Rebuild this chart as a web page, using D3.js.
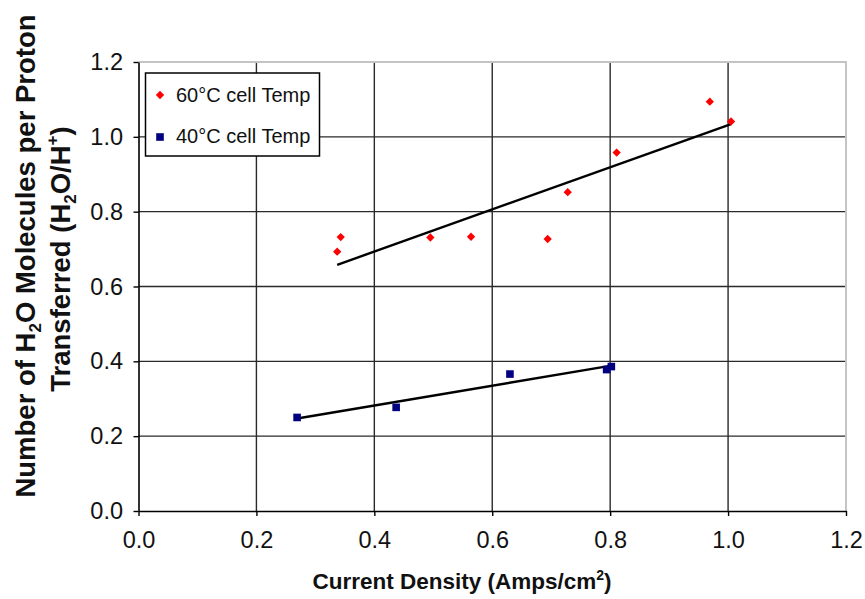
<!DOCTYPE html>
<html>
<head>
<meta charset="utf-8">
<script src="https://cdn.jsdelivr.net/npm/d3@7"></script>
<style>
  body { margin: 0; background: #fff; }
  text { font-family: "Liberation Sans", Arial, Helvetica, sans-serif; }
</style>
</head>
<body>
<svg id="chart" width="865" height="599"></svg>
<script>

var tickValues = [0.0, 0.2, 0.4, 0.6, 0.8, 1.0, 1.2];
var seriesNames = ["60°C cell Temp", "40°C cell Temp"];

// 60°C cell temperature
var temp60X = [0.337, 0.343, 0.495, 0.564, 0.694, 0.728, 0.811, 0.969, 1.005];
var temp60Y = [0.693, 0.732, 0.731, 0.733, 0.727, 0.852, 0.958, 1.094, 1.041];

// 40°C cell temperature
var temp40X = [0.269, 0.437, 0.630, 0.794, 0.802];
var temp40Y = [0.250, 0.277, 0.366, 0.378, 0.386];

var svg = d3.select("#chart");

var x = d3.scaleLinear().domain([0, 1.2]).range([138.5, 846]);
var y = d3.scaleLinear().domain([0, 1.2]).range([511, 62]);

var fmt = d3.format(".1f");

/* grid */
var grid = svg.append("g").attr("class", "grid");

grid.selectAll("line.v").data(tickValues.slice(1, -1)).enter().append("line")
    .attr("class", "v")
    .attr("x1", function(d) { return x(d); })
    .attr("x2", function(d) { return x(d); })
    .attr("y1", y(0))
    .attr("y2", y(1.2))
    .attr("stroke", "#2a2a2a")
    .attr("stroke-width", 1.4);

grid.selectAll("line.h").data(tickValues.slice(1, -1)).enter().append("line")
    .attr("class", "h")
    .attr("x1", x(0))
    .attr("x2", x(1.2))
    .attr("y1", function(d) { return y(d); })
    .attr("y2", function(d) { return y(d); })
    .attr("stroke", "#2a2a2a")
    .attr("stroke-width", 1.4);

// light frame on top and right
grid.append("path")
    .attr("d", "M" + x(0) + "," + y(1.2) + "H" + x(1.2) + "V" + y(0))
    .attr("fill", "none")
    .attr("stroke", "#c4c4c4")
    .attr("stroke-width", 2);

/* axes */
var yAxis = svg.append("g")
    .attr("transform", "translate(" + x(0) + ",0)")
    .call(d3.axisLeft(y).tickValues(tickValues).tickFormat(fmt).tickSize(5).tickSizeOuter(0).tickPadding(10.5));

var xAxis = svg.append("g")
    .attr("transform", "translate(0," + y(0) + ")")
    .call(d3.axisBottom(x).tickValues(tickValues).tickFormat(fmt).tickSize(5).tickSizeOuter(0).tickPadding(15.3));

[xAxis, yAxis].forEach(function(ax) {
  ax.select(".domain").attr("stroke", "#000").attr("stroke-width", 1.6);
  ax.selectAll(".tick line").attr("stroke", "#000").attr("stroke-width", 1.4);
  ax.selectAll(".tick text")
    .attr("fill", "#111")
    .attr("font-size", 23.5)
    .attr("font-family", "'Liberation Sans', Arial, sans-serif");
});

/* trend lines (least squares over each series) */
function fit(xs, ys) {
  var mx = d3.mean(xs), my = d3.mean(ys);
  var sxy = d3.sum(xs, function(v, i) { return (v - mx) * (ys[i] - my); });
  var sxx = d3.sum(xs, function(v) { return (v - mx) * (v - mx); });
  var slope = sxy / sxx;
  var icpt = my - slope * mx;
  var ext = d3.extent(xs);
  return ext.map(function(v) { return [v, icpt + slope * v]; });
}

var line = d3.line()
    .x(function(d) { return x(d[0]); })
    .y(function(d) { return y(d[1]); });

svg.append("g").attr("class", "trend")
  .selectAll("path").data([fit(temp60X, temp60Y), fit(temp40X, temp40Y)]).enter().append("path")
    .attr("d", line)
    .attr("fill", "none")
    .attr("stroke", "#000")
    .attr("stroke-width", 2.4);

/* points */
var diamond = d3.symbol().type(d3.symbolDiamond2).size(44);

svg.append("g").attr("class", "pts60")
  .selectAll("path").data(temp60X).enter().append("path")
    .attr("d", diamond)
    .attr("transform", function(d, i) { return "translate(" + x(d) + "," + y(temp60Y[i]) + ")"; })
    .attr("fill", "#ff0000");

svg.append("g").attr("class", "pts40")
  .selectAll("rect").data(temp40X).enter().append("rect")
    .attr("x", function(d) { return x(d) - 3.8; })
    .attr("y", function(d, i) { return y(temp40Y[i]) - 3.8; })
    .attr("width", 7.6)
    .attr("height", 7.6)
    .attr("fill", "#000080");

/* legend */
var legend = svg.append("g").attr("class", "legend");

legend.append("rect")
    .attr("x", 145.5).attr("y", 73)
    .attr("width", 174).attr("height", 83)
    .attr("fill", "#fff")
    .attr("stroke", "#000")
    .attr("stroke-width", 1.5);

legend.append("path")
    .attr("d", diamond)
    .attr("transform", "translate(160,95)")
    .attr("fill", "#ff0000");

legend.append("rect")
    .attr("x", 156.2).attr("y", 133.2)
    .attr("width", 7.6).attr("height", 7.6)
    .attr("fill", "#000080");

legend.selectAll("text").data(seriesNames).enter().append("text")
    .attr("x", 176)
    .attr("y", function(d, i) { return 101.5 + i * 41.5; })
    .attr("font-size", 20)
    .attr("fill", "#111")
    .text(function(d) { return d; });

/* axis titles */
var xTitle = svg.append("text")
    .attr("x", 462).attr("y", 589)
    .attr("text-anchor", "middle")
    .attr("font-size", 22.5)
    .attr("font-weight", "bold")
    .attr("fill", "#111");
xTitle.append("tspan").text("Current Density (Amps/cm");
xTitle.append("tspan").attr("font-size", 14).attr("dy", -9).text("2");
xTitle.append("tspan").attr("dy", 9).text(")");

var yTitle1 = svg.append("text")
    .attr("transform", "translate(35,256) rotate(-90)")
    .attr("text-anchor", "middle")
    .attr("font-size", 27.5)
    .attr("font-weight", "bold")
    .attr("fill", "#111");
yTitle1.append("tspan").text("Number of H");
yTitle1.append("tspan").attr("font-size", 17).attr("dy", 6).text("2");
yTitle1.append("tspan").attr("dy", -6).text("O Molecules per Proton");

var yTitle2 = svg.append("text")
    .attr("transform", "translate(70,259) rotate(-90)")
    .attr("text-anchor", "middle")
    .attr("font-size", 27.5)
    .attr("font-weight", "bold")
    .attr("fill", "#111");
yTitle2.append("tspan").text("Transferred (H");
yTitle2.append("tspan").attr("font-size", 17).attr("dy", 6).text("2");
yTitle2.append("tspan").attr("dy", -6).text("O/H");
yTitle2.append("tspan").attr("font-size", 17).attr("dy", -12).text("+");
yTitle2.append("tspan").attr("dy", 12).text(")");

</script>
</body>
</html>
